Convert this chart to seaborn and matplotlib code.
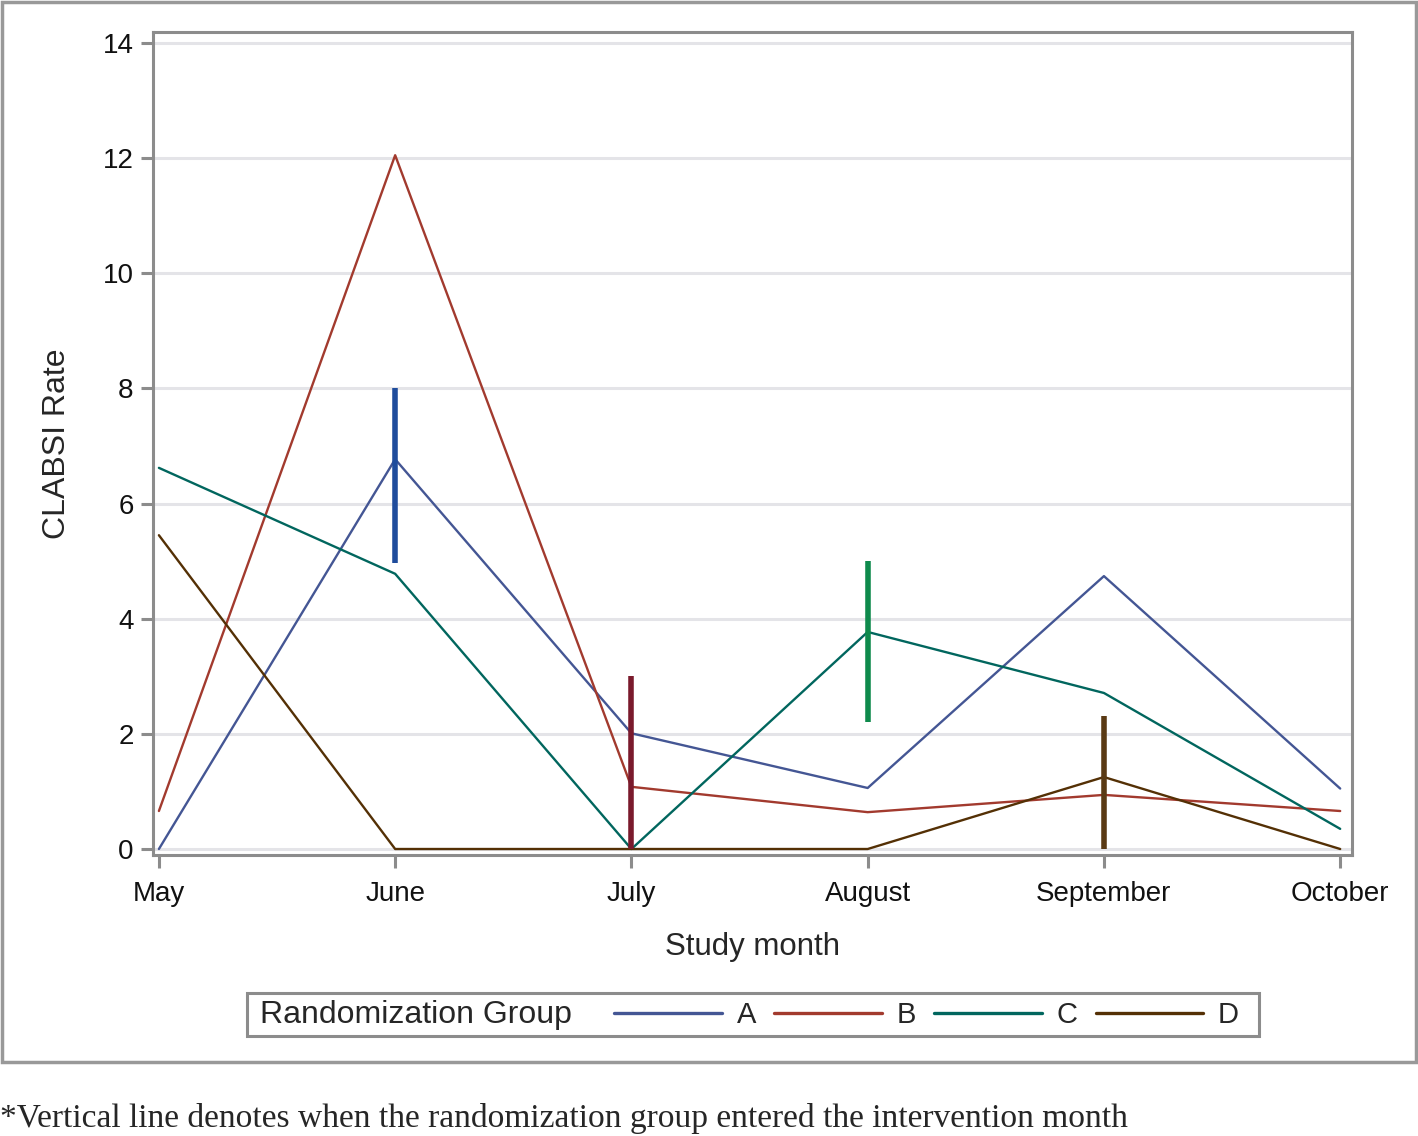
import matplotlib
matplotlib.use("Agg")
import matplotlib.pyplot as plt
import matplotlib.patches as mpatches
from matplotlib.lines import Line2D
import pandas as pd
import seaborn as sns

months = ["May", "June", "July", "August", "September", "October"]
groups = ["A", "B", "C", "D"]
rate_a = [0.0, 6.77, 2.01, 1.06, 4.74, 1.05]
rate_b = [0.66, 12.05, 1.08, 0.64, 0.94, 0.66]
rate_c = [6.62, 4.78, 0.0, 3.77, 2.71, 0.35]
rate_d = [5.45, 0.0, 0.0, 0.0, 1.25, 0.0]

# intervention markers: month index, low, high
mark_month = [1, 2, 3, 4]
mark_low = [4.97, 0.0, 2.2, 0.0]
mark_high = [8.0, 3.0, 5.0, 2.31]

line_colors = ["#445694", "#A23A2E", "#01665E", "#543005"]
mark_colors = ["#1F4C9C", "#7A1A2C", "#0E8A4C", "#5A3A14"]

df = pd.DataFrame({
    "month": list(range(6)) * 4,
    "rate": rate_a + rate_b + rate_c + rate_d,
    "group": [g for g in groups for _ in range(6)],
})

sns.set_style("white")
plt.rcParams["font.family"] = ["Liberation Sans", "DejaVu Sans"]

fig = plt.figure(figsize=(14.18, 11.36), dpi=100)
ax = fig.add_axes([153 / 1418, 1 - 855 / 1136, (1352 - 153) / 1418, (855 - 32) / 1136])

sns.lineplot(data=df, x="month", y="rate", hue="group", palette=line_colors,
             linewidth=1.7, legend=False, ax=ax, zorder=3)
ax.vlines(mark_month, mark_low, mark_high, colors=mark_colors, linewidth=4, zorder=4)

ax.set_xlim(-0.025, 5.05)
ax.set_ylim(-0.104, 14.19)
ax.set_xticks(range(6))
ax.set_xticklabels(months)
ax.set_yticks(range(0, 15, 2))
ax.yaxis.grid(True, color="#e4e4e8", linewidth=2.2)
ax.set_axisbelow(True)
for s in ax.spines.values():
    s.set_color("#8c8c8c")
    s.set_linewidth(2.2)
ax.tick_params(axis="both", which="major", direction="out", length=9, width=2.2,
               color="#8c8c8c", labelsize=20, labelcolor="#111111", pad=5,
               bottom=True, left=True)
ax.tick_params(axis="x", pad=10)
ax.set_xlabel("Study month", fontsize=22.5, labelpad=18)
ax.set_ylabel("CLABSI Rate", fontsize=23, labelpad=22)

# legend box with title on the left
box = mpatches.Rectangle((247 / 1418, 1 - 1036 / 1136), (1259 - 247) / 1418, 43 / 1136,
                         transform=fig.transFigure, fill=False, edgecolor="#8c8c8c",
                         linewidth=2.2)
fig.patches.append(box)
fig.text(260 / 1418, 1 - 1015 / 1136, "Randomization Group", fontsize=23,
         va="center", ha="left")
handles = [Line2D([0], [0], color=c, linewidth=2.4) for c in line_colors]
fig.legend(handles, groups, loc="center left", bbox_to_anchor=(614 / 1418, 1 - 1015 / 1136),
           ncol=4, frameon=False, fontsize=21, handlelength=3.7, handletextpad=0.5,
           columnspacing=0.62, borderpad=0, borderaxespad=0)

# outer frame
frame = mpatches.Rectangle((2 / 1418, 1 - 1062 / 1136), 1414 / 1418, 1060 / 1136,
                           transform=fig.transFigure, fill=False, edgecolor="#999999",
                           linewidth=2.5)
fig.patches.append(frame)

fig.text(0.0, 1 - 1118 / 1136,
         "*Vertical line denotes when the randomization group entered the intervention month",
         fontsize=24.1, family="Liberation Serif", va="center", ha="left")

fig.savefig("out.png", dpi=100)
